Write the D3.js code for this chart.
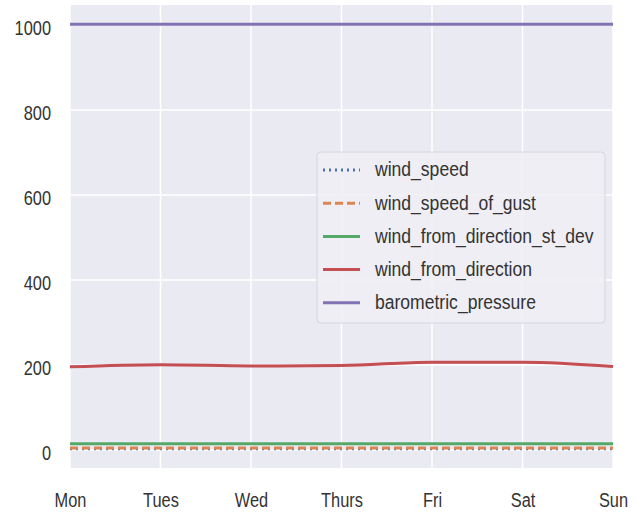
<!DOCTYPE html>
<html><head><meta charset="utf-8">
<script src="https://cdn.jsdelivr.net/npm/d3@7/dist/d3.min.js"></script>
<style>body{margin:0;background:#fff}svg{display:block}text{font-family:"Liberation Sans",Arial,sans-serif}</style>
</head><body><svg id="c" width="644" height="513"></svg>
<script>
const days = ["Mon","Tues","Wed","Thurs","Fri","Sat","Sun"];
const yTicks = [0,200,400,600,800,1000];
const windSpeed = [3,3,3,3,3,3,3];
const windSpeedOfGust = [5,5,5,5,5,5,5];
const windDirStDev = [15,15,15,15,15,15,15];
const windDirection = [196,201,198,199,207,207,197];
const baroPressure = [1002,1002,1002,1002,1002,1002,1002];
const seriesNames = ["wind_speed","wind_speed_of_gust","wind_from_direction_st_dev","wind_from_direction","barometric_pressure"];
const seriesValues = [windSpeed, windSpeedOfGust, windDirStDev, windDirection, baroPressure];
const colors = ["#4C72B0","#DD8452","#55A868","#C44E52","#8172B3"];
const dashes = ["2,4","8,4",null,null,null];

const FONT = "'Liberation Sans',Arial,sans-serif";
const TXT = "#333333";
const svg = d3.select("#c");
const L=70,R=613,T=5,B=468;
const x = d3.scalePoint().domain(days).range([L,R]);
const y = d3.scaleLinear().domain([-42,1047]).range([B,T]);

svg.append("rect").attr("x",L).attr("y",T).attr("width",R-L).attr("height",B-T).attr("fill","#EAEAF2");
const g = svg.append("g");
g.selectAll(".hg").data(yTicks).join("line").attr("x1",L).attr("x2",R)
 .attr("y1",d=>y(d)).attr("y2",d=>y(d)).attr("stroke","#fff").attr("stroke-width",1.5);
g.selectAll(".vg").data(days).join("line").attr("y1",T).attr("y2",B)
 .attr("x1",d=>x(d)).attr("x2",d=>x(d)).attr("stroke","#fff").attr("stroke-width",1.5);

const yAxis = d3.axisLeft(y).tickValues(yTicks).tickFormat(d3.format("d")).tickSize(0).tickPadding(19);
const ya = svg.append("g").attr("transform",`translate(${L},0)`).call(yAxis);
ya.select(".domain").remove();
ya.selectAll("text").attr("font-size",21).attr("fill",TXT).attr("font-family",FONT)
  .attr("x",0).attr("dy","0.45em").attr("transform","translate(-19,0) scale(0.78,1)");
const xAxis = d3.axisBottom(x).tickSize(0).tickPadding(23.6);
const xa = svg.append("g").attr("transform",`translate(0,${B})`).call(xAxis);
xa.select(".domain").remove();
xa.selectAll("text").attr("font-size",21).attr("fill",TXT).attr("font-family",FONT)
  .attr("transform","scale(0.78,1)");

const line = d3.line().x((d,i)=>x(days[i])).y(d=>y(d)).curve(d3.curveMonotoneX);
seriesValues.forEach((vals,k)=>{
  svg.append("path").datum(vals).attr("d",line).attr("fill","none")
   .attr("stroke",colors[k]).attr("stroke-width",3)
   .attr("stroke-dasharray",dashes[k]);
});

// legend
const lg = svg.append("g");
lg.append("rect").attr("x",317).attr("y",152).attr("width",288).attr("height",171).attr("rx",4)
 .attr("fill","#EEEEF4").attr("fill-opacity",0.9).attr("stroke","#D6D6DE").attr("stroke-width",1);
seriesNames.forEach((n,k)=>{
  const yy = 170 + k*33.2;
  lg.append("line").attr("x1",323).attr("x2",360).attr("y1",yy).attr("y2",yy)
    .attr("stroke",colors[k]).attr("stroke-width",3).attr("stroke-dasharray",dashes[k]);
  lg.append("text").attr("x",0).attr("y",0).attr("dy","0.33em").attr("font-size",19.5)
    .attr("transform",`translate(375,${yy}) scale(0.9,1)`)
    .attr("fill",TXT).attr("font-family",FONT).text(n);
});
</script></body></html>
